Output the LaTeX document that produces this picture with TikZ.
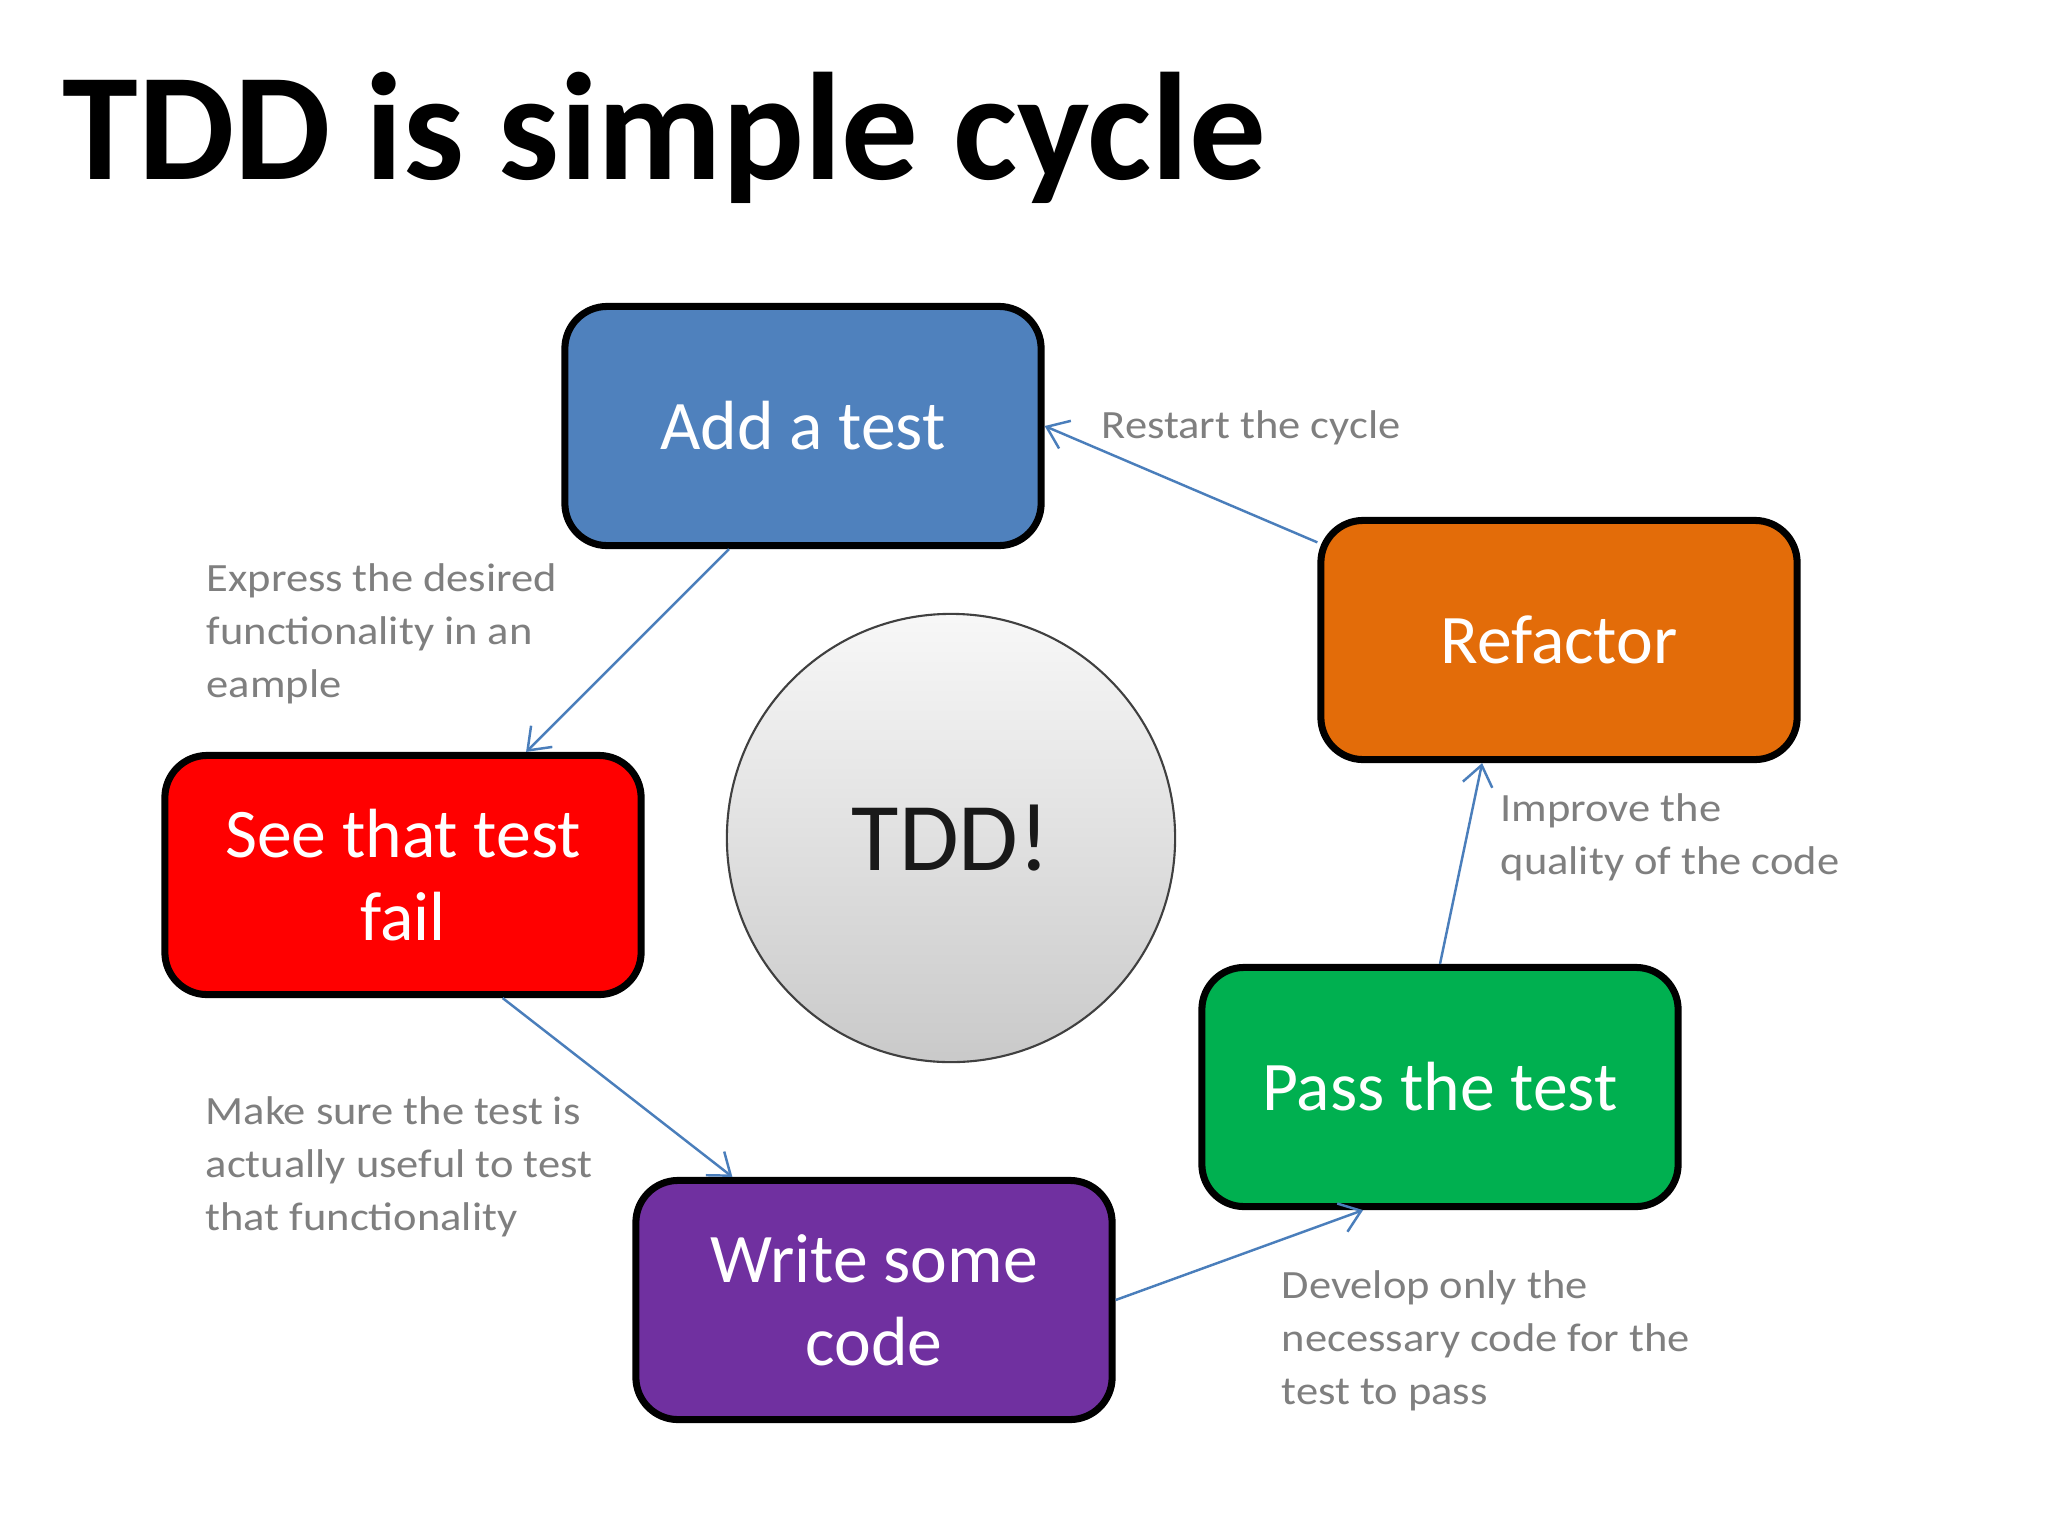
\documentclass[tikz,border=0pt]{standalone}
\usepackage{fontspec}
\setmainfont{Carlito}
\newfontfamily\notefont[FakeStretch=1.11]{Carlito}
\usetikzlibrary{arrows.meta}
\definecolor{addblue}{HTML}{4F81BD}
\definecolor{failred}{HTML}{FF0000}
\definecolor{writepurple}{HTML}{7030A0}
\definecolor{passgreen}{HTML}{00B050}
\definecolor{refactororange}{HTML}{E36C09}
\definecolor{flowblue}{HTML}{4A7EBB}
\definecolor{notegray}{HTML}{7F7F7F}
\definecolor{rimgray}{HTML}{404040}

\begin{document}
\begin{tikzpicture}[x=0.01cm, y=-0.01cm, >={Straight Barb[length=2mm,width=3mm]},
  stepbox/.style={draw=black, line width=2pt, rounded corners=12pt,
    minimum width=4.76cm, minimum height=2.39cm, text=white, align=center,
    font=\fontsize{19.8}{23.6}\selectfont},
  note/.style={anchor=north west, inner sep=0pt, align=left, text=notegray,
    font=\notefont\fontsize{11.4}{15.1}\selectfont},
  flow/.style={->, draw=flowblue, line width=0.7pt}]
  \fill[white] (0,0) rectangle (2048,1536);
  \useasboundingbox (0,0) rectangle (2048,1536);
  \node[anchor=base west, inner sep=0pt, font=\fontsize{43.5}{50}\selectfont\bfseries] (title) at (62,179) {TDD is simple cycle};
  % the five steps of the cycle
  \node[stepbox, fill=addblue] (add) at (803,426) {Add a test};
  \node[stepbox, fill=failred] (fail) at (403,875) {See that test\\fail};
  \node[stepbox, fill=writepurple] (write) at (874,1300) {Write some\\code};
  \node[stepbox, fill=passgreen] (pass) at (1440,1087) {Pass the test};
  \node[stepbox, fill=refactororange] (refactor) at (1559,640) {Refactor};
  \node[circle, draw=rimgray, line width=0.6pt, minimum size=4.48cm,
    top color=gray!6, bottom color=gray!42, text=black!90,
    font=\fontsize{27.6}{30}\selectfont] (tdd) at (951,838) {TDD!};
  % connectors
  \draw[flow] (refactor.158) -- (add.east);
  \draw[flow] (add.239) -- (fail.45);
  \draw[flow] (fail.-51) -- (write.139);
  \draw[flow] (write.east) -- (pass.238);
  \draw[flow] (pass.north) -- (refactor.238);
  % notes
  \node[note] (restartnote) at (1101,410) {Restart the cycle};
  \node[note] (expressnote) at (206,563) {Express the desired\\functionality in an\\eample};
  \node[note] (improvenote) at (1500,793) {Improve the\\quality of the code};
  \node[note] (makesurenote) at (205,1096) {Make sure the test is\\actually useful to test\\that functionality};
  \node[note] (developnote) at (1281,1270) {Develop only the\\necessary code for the\\test to pass};
\end{tikzpicture}
\end{document}
